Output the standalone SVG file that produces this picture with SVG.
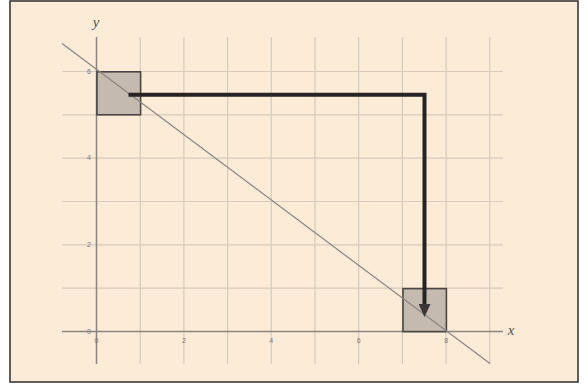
<svg xmlns="http://www.w3.org/2000/svg" width="587" height="386" viewBox="0 0 587 386">
<style>
.grid{stroke:#d6cbbd;stroke-width:1.2;fill:none}
.axis{stroke:#8a8580;stroke-width:1.5;fill:none}
.tick{font-family:"Liberation Sans",Arial,sans-serif;font-size:7px;fill:#777}
.albl{font-family:"Liberation Serif","Times New Roman",serif;font-style:italic;font-size:15px;fill:#555}
.sq{fill:#c4bab0;stroke:#4a4542;stroke-width:1.6}
</style>
<defs>
<marker id="ah" markerUnits="userSpaceOnUse" markerWidth="14" markerHeight="12" refX="1" refY="6" orient="auto" viewBox="0 0 14 12">
<path d="M0,0 L13,6 L0,12 Z" fill="#3a3836"/>
</marker>
</defs>
<rect x="0" y="0" width="587" height="386" fill="#ffffff"/>
<rect x="10" y="1" width="568" height="381" fill="#fcebd7" stroke="#3a3836" stroke-width="1.6"/>
<g id="grid">
<path class="grid" d="M140.2,37V364M183.9,37V364M227.6,37V364M271.3,37V364M315,37V364M358.7,37V364M402.4,37V364M446.1,37V364M489.8,37V364"/>
<path class="grid" d="M62,288.2H503M62,244.8H503M62,201.5H503M62,158.2H503M62,114.8H503M62,71.5H503"/>
</g>
<g id="axes">
<path class="axis" d="M62,331.5H503"/>
<path class="axis" d="M96.5,37V364"/>
<text class="albl" x="96" y="27" text-anchor="middle">y</text>
<text class="albl" x="511" y="335" text-anchor="middle">x</text>
<text class="tick" x="91" y="74" text-anchor="end">6</text>
<text class="tick" x="91" y="160" text-anchor="end">4</text>
<text class="tick" x="91" y="247" text-anchor="end">2</text>
<text class="tick" x="91" y="334" text-anchor="end">0</text>
<text class="tick" x="96.5" y="343" text-anchor="middle">0</text>
<text class="tick" x="183.9" y="343" text-anchor="middle">2</text>
<text class="tick" x="271.3" y="343" text-anchor="middle">4</text>
<text class="tick" x="358.7" y="343" text-anchor="middle">6</text>
<text class="tick" x="446.1" y="343" text-anchor="middle">8</text>
</g>
<g id="square1">
<rect class="sq" x="97" y="71.8" width="43.6" height="43"/>
</g>
<g id="square2">
<rect class="sq" x="403" y="288.6" width="43.4" height="43"/>
</g>
<g id="line">
<path d="M62,43.5L490,363.5" stroke="#8a8580" stroke-width="1.2" fill="none"/>
</g>
<g id="connectors">
<path d="M128.5,94.7H424.5V305" stroke="#262422" stroke-width="4" fill="none" marker-end="url(#ah)"/>
</g>
</svg>
